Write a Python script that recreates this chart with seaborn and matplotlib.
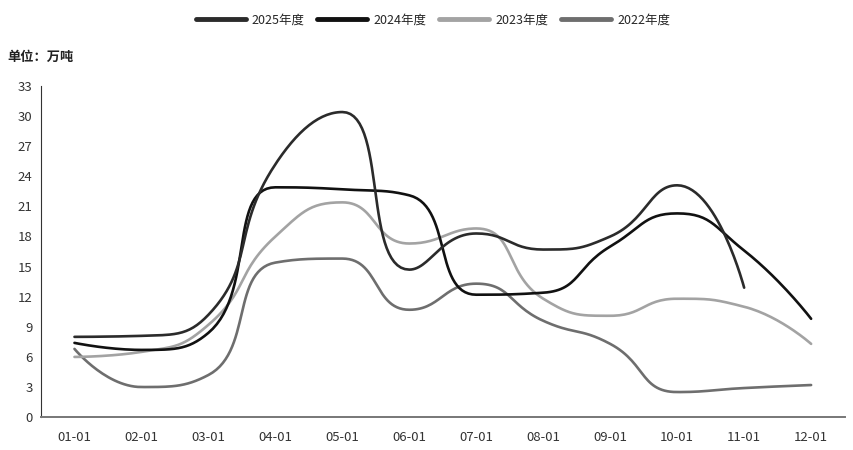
import numpy as np
import pandas as pd
import matplotlib
matplotlib.use("Agg")
import matplotlib.pyplot as plt
from matplotlib.lines import Line2D
import seaborn as sns

# ── Datos (万吨, por mes) ──
meses = ['01-01', '02-01', '03-01', '04-01', '05-01', '06-01',
         '07-01', '08-01', '09-01', '10-01', '11-01', '12-01']
y2025 = [8.0, 8.1, 10.2, 25.2, 30.4, 14.7, 18.3, 16.7, 18.0, 23.1, 12.9]
y2024 = [7.4, 6.7, 8.4, 22.9, 22.7, 22.1, 12.2, 12.4, 17.0, 20.3, 16.6, 9.8]
y2023 = [6.0, 6.5, 9.2, 18.0, 21.4, 17.3, 18.8, 11.8, 10.1, 11.8, 11.0, 7.3]
y2022 = [6.8, 3.0, 4.2, 15.4, 15.8, 10.7, 13.3, 9.6, 7.3, 2.5, 2.9, 3.2]

series = {'2025年度': y2025, '2024年度': y2024, '2023年度': y2023, '2022年度': y2022}
colores = {'2025年度': '#2b2b2b', '2024年度': '#111111',
           '2023年度': '#a3a3a3', '2022年度': '#6e6e6e'}


def suavizar(vals, suave=0.5, sx=67.0, sy=10.0, pasos=30):
    """Curva Bezier suave con puntos de control acotados (sin sobrepaso)."""
    p = np.column_stack([np.arange(len(vals)) * sx, np.asarray(vals, float) * sy])
    n = len(p)
    cin = p.copy()    # control entrante de cada punto
    cout = p.copy()   # control saliente de cada punto
    for i in range(1, n - 1):
        prev, cur, nxt = p[i - 1], p[i], p[i + 1]
        v = nxt - prev
        l0 = np.hypot(*(cur - prev)); l1 = np.hypot(*(nxt - cur))
        r = l1 / (l0 + l1)
        nc = cur + v * suave * r
        nc = np.minimum(nc, np.maximum(nxt, cur)); nc = np.maximum(nc, np.minimum(nxt, cur))
        pc = cur - (nc - cur) * l0 / l1
        pc = np.minimum(pc, np.maximum(prev, cur)); pc = np.maximum(pc, np.minimum(prev, cur))
        nc = cur + (cur - pc) * l1 / l0
        cin[i], cout[i] = pc, nc
    xs, ys = [], []
    t = np.linspace(0, 1, pasos, endpoint=False)[:, None]
    for i in range(n - 1):
        b = ((1 - t) ** 3 * p[i] + 3 * (1 - t) ** 2 * t * cout[i]
             + 3 * (1 - t) * t ** 2 * cin[i + 1] + t ** 3 * p[i + 1])
        xs.extend(b[:, 0] / sx); ys.extend(b[:, 1] / sy)
    xs.append(p[-1, 0] / sx); ys.append(p[-1, 1] / sy)
    return xs, ys


filas = []
for nombre, vals in series.items():
    xs, ys = suavizar(vals)
    filas.append(pd.DataFrame({'x': xs, 'valor': ys, 'serie': nombre}))
df = pd.concat(filas, ignore_index=True)

sns.set_style("white")
plt.rcParams['font.family'] = ['Liberation Sans Narrow', 'Noto Sans CJK SC', 'DejaVu Sans']

fig, ax = plt.subplots(figsize=(8.54, 4.5), dpi=100)
fig.subplots_adjust(left=0.048, right=0.989, bottom=0.073, top=0.809)

sns.lineplot(data=df, x='x', y='valor', hue='serie', palette=colores,
             hue_order=list(series.keys())[::-1], sort=False, estimator=None,
             units='serie', lw=1.9, ax=ax, legend=False)

ax.set_xlim(-0.5, 11.5)
ax.set_ylim(0, 33)
ax.set_yticks(np.arange(0, 34, 3))
ax.set_xticks(np.arange(-0.5, 12, 1))
ax.set_xticklabels([])
ax.set_xticks(np.arange(12), minor=True)
ax.set_xticklabels(meses, minor=True, fontsize=9.5, color='#333333')
ax.tick_params(axis='x', which='major', direction='out', length=6, width=1, color='#333333')
ax.tick_params(axis='x', which='minor', length=0, pad=10)
ax.tick_params(axis='y', direction='out', length=4, width=1, color='#333333',
               labelsize=9.5, labelcolor='#333333', pad=2)
ax.set_xlabel(''); ax.set_ylabel('')
ax.spines[['top', 'right']].set_visible(False)
ax.spines['left'].set_color('#333333')
ax.spines['bottom'].set_color('#777777')
ax.spines['bottom'].set_linewidth(1.4)

fig.text(0.009, 0.873, '单位：万吨', fontsize=9.5, fontweight='bold', color='#222222',
         va='center', family=['Noto Sans CJK SC', 'DejaVu Sans'])

handles = [Line2D([0], [0], color=colores[n], lw=3.5) for n in series]
fig.legend(handles, list(series.keys()), loc='center', bbox_to_anchor=(0.507, 0.955),
           ncol=4, frameon=False, handlelength=4.0, columnspacing=1.0,
           handletextpad=0.5, prop={'family': ['Liberation Sans Narrow', 'Noto Sans CJK SC'], 'size': 9})

fig.savefig('out.png', dpi=100)
